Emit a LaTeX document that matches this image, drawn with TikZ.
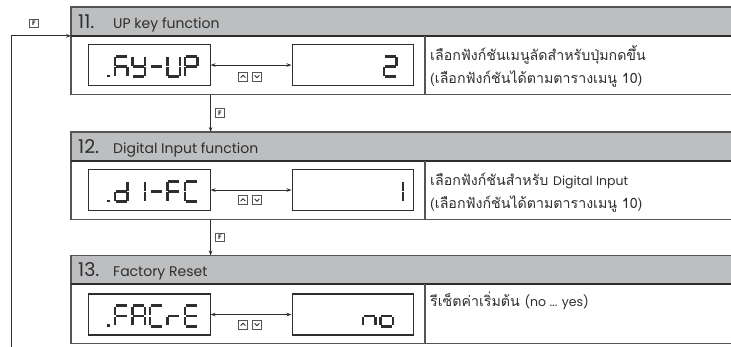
\documentclass[tikz,border=0pt]{standalone}
\usepackage{fontspec}
\setmainfont{Poppins}
\newfontfamily\thai[Script=Thai]{Loma}
\usetikzlibrary{arrows.meta,calc}

\definecolor{hdrgray}{HTML}{BDBEC0}
\definecolor{ink}{HTML}{2E2E2E}
\definecolor{linegray}{HTML}{555555}

\newcommand\latin[1]{{\normalfont\fontsize{12.5}{13}\selectfont #1}}

\tikzset{
  hdr/.style={fill=hdrgray, minimum width=700, minimum height=28.5, inner sep=0, anchor=north west},
  bodyarea/.style={minimum width=700, minimum height=58.5, inner sep=0, anchor=north west},
  boxline/.style={draw=linegray, line width=1.2},
  hdrline/.style={draw=ink, line width=2.2},
  disp/.style={draw=ink, line width=1.1, minimum width=121.5, minimum height=41, inner sep=0, anchor=north west},
  segline/.style={draw=ink, line width=2.8, line cap=butt},
  numtxt/.style={anchor=base west, inner sep=0, font=\fontsize{19}{19}\selectfont, text=ink},
  titletxt/.style={anchor=base west, inner sep=0, font=\fontsize{14}{14}\selectfont, text=ink},
  desc/.style={anchor=base west, inner sep=0, font=\thai\fontsize{14.2}{15}\selectfont, text=ink},
  conn/.style={draw=ink, line width=0.9},
  tip/.style={-{Stealth[length=5pt,width=3.6pt]}},
  dbl/.style={{Stealth[length=5pt,width=3.6pt]}-{Stealth[length=5pt,width=3.6pt]}},
  fkey/.style={draw=linegray, line width=0.7, minimum width=8.5, minimum height=8.5, inner sep=0,
               font=\fontsize{6.5}{6.5}\selectfont\bfseries, text=ink},
  kbox/.style={draw=linegray, line width=0.8, minimum width=9, minimum height=9, inner sep=0},
  chev/.style={draw=ink, line width=0.8},
}

% seven-segment glyph: #1 x of cell left, #2 y of cell top, #3 segment list
\newcommand\sevseg[3]{%
  \begin{scope}[shift={(#1,#2)}]
    \coordinate (a1) at (0.8,0);      \coordinate (a2) at (11.7,0);
    \coordinate (b1) at (12.5,0.8);   \coordinate (b2) at (12.5,9.5);
    \coordinate (c1) at (12.5,11.0);  \coordinate (c2) at (12.5,19.7);
    \coordinate (d1) at (0.8,20.5);   \coordinate (d2) at (11.7,20.5);
    \coordinate (e1) at (0,11.0);     \coordinate (e2) at (0,19.7);
    \coordinate (f1) at (0,0.8);      \coordinate (f2) at (0,9.5);
    \coordinate (g1) at (0.8,10.25);  \coordinate (g2) at (11.7,10.25);
    \foreach \sg in {#3}{\draw[segline] (\sg1) -- (\sg2);}
  \end{scope}}

% up/down key pair
\newcommand\updown[3]{%
  \node[kbox] (up#1) at (#2,#3) {};
  \node[kbox] (dn#1) at (#2+14,#3) {};
  \draw[chev] ([shift={(-2.4,1.2)}]up#1.center) -- ([shift={(0,-1.3)}]up#1.center) -- ([shift={(2.4,1.2)}]up#1.center);
  \draw[chev] ([shift={(-2.4,-1.2)}]dn#1.center) -- ([shift={(0,1.3)}]dn#1.center) -- ([shift={(2.4,-1.2)}]dn#1.center);
}

\begin{document}
\begin{tikzpicture}[x=1pt,y=-1pt]
\useasboundingbox (0,0) rectangle (731,347);
\clip (0,0) rectangle (731,347);

% ---------- Box 11 ----------
\node[hdr] (hA) at (71,7) {};
\node[bodyarea] (bA) at (hA.south west) {};
\draw[boxline] (hA.north east) -- (hA.north west) -- (bA.south west) -- (bA.south east);
\draw[hdrline] (hA.south west) -- (hA.south east);
\draw[boxline] ($(bA.north west)+(354,0)$) -- ($(bA.south west)+(354,0)$);
\node[numtxt] (nA) at (78,28.5) {11.};
\node[titletxt] (tA) at (113,28.5) {UP key function};
\node[disp] (dA) at (88,44) {};
\node[disp] (vA) at (291.5,44) {};
\fill[ink] (107.4,74.6) rectangle (110.2,77.4);
\sevseg{115}{56.25}{a,f,e,g,c}
\sevseg{132.5}{56.25}{f,b,g,c,d}
\sevseg{150}{56.25}{g}
\sevseg{167.5}{56.25}{f,e,d,c,b}
\sevseg{185}{56.25}{a,b,f,g,e}
\sevseg{384}{56.25}{a,b,g,e,d}
\draw[conn,dbl] (dA.east) -- (vA.west);
\updown{A}{243}{76.5}
\node[desc] (xA1) at (430,61) {เลือกฟังก์ชันเมนูลัดสำหรับปุ่มกดขึ้น};
\node[desc] (xA2) at (430,84) {(เลือกฟังก์ชันได้ตามตารางเมนู 10)};

% ---------- Box 12 ----------
\node[hdr] (hB) at (71,132) {};
\node[bodyarea] (bB) at (hB.south west) {};
\draw[boxline] (hB.north east) -- (hB.north west) -- (bB.south west) -- (bB.south east);
\draw[hdrline] (hB.south west) -- (hB.south east);
\draw[boxline] ($(bB.north west)+(354,0)$) -- ($(bB.south west)+(354,0)$);
\node[numtxt] (nB) at (78,153.5) {12.};
\node[titletxt] (tB) at (113,153.5) {Digital Input function};
\node[disp] (dB) at (88,169) {};
\node[disp] (vB) at (291.5,169) {};
\fill[ink] (107.4,199.6) rectangle (110.2,202.4);
\sevseg{115}{181.25}{b,c,d,e,g}
\sevseg{132.5}{181.25}{b,c}
\sevseg{150}{181.25}{g}
\sevseg{167.5}{181.25}{a,f,e,g}
\sevseg{185}{181.25}{a,f,e,d}
\sevseg{390.5}{181.25}{b,c}
\draw[conn,dbl] (dB.east) -- (vB.west);
\updown{B}{243}{200}
\node[desc] (xB1) at (430,186) {เลือกฟังก์ชันสำหรับ \latin{Digital Input}};
\node[desc] (xB2) at (430,209) {(เลือกฟังก์ชันได้ตามตารางเมนู 10)};

% ---------- Box 13 ----------
\node[hdr] (hC) at (71,255.5) {};
\node[bodyarea] (bC) at (hC.south west) {};
\draw[boxline] (hC.north east) -- (hC.north west) -- (bC.south west) -- (bC.south east);
\draw[hdrline] (hC.south west) -- (hC.south east);
\draw[boxline] ($(bC.north west)+(354,0)$) -- ($(bC.south west)+(354,0)$);
\node[numtxt] (nC) at (78,277) {13.};
\node[titletxt] (tC) at (113,277) {Factory Reset};
\node[disp] (dC) at (88,293.5) {};
\node[disp] (vC) at (291.5,293.5) {};
\fill[ink] (107.4,324.1) rectangle (110.2,326.9);
\sevseg{115}{305.75}{a,f,e,g}
\sevseg{132.5}{305.75}{a,b,c,e,f,g}
\sevseg{150}{305.75}{a,f,e,d}
\sevseg{167.5}{305.75}{e,g}
\sevseg{185}{305.75}{a,f,g,e,d}
\sevseg{363}{305.75}{e,g,c}
\sevseg{380.5}{305.75}{c,d,e,g}
\draw[conn,dbl] (dC.east) -- (vC.west);
\updown{C}{243}{324.5}
\node[desc] (xC1) at (430,307) {รีเซ็ตค่าเริ่มต้น \latin{(no ... yes)}};

% ---------- flow connectors ----------
\draw[conn,tip] (dA.east |- bA.south) -- (dA.east |- hB.north);
\draw[conn,tip] (dB.east |- bB.south) -- (dB.east |- hC.north);
\node[fkey] (fB) at (220,113) {F};
\node[fkey] (fC) at (220,237.5) {F};
\coordinate (loopbot) at (11,347);
\draw[conn,tip] (loopbot) |- (hA.south west);
\node[fkey] (fA) at (34,23.5) {F};
\end{tikzpicture}
\end{document}
